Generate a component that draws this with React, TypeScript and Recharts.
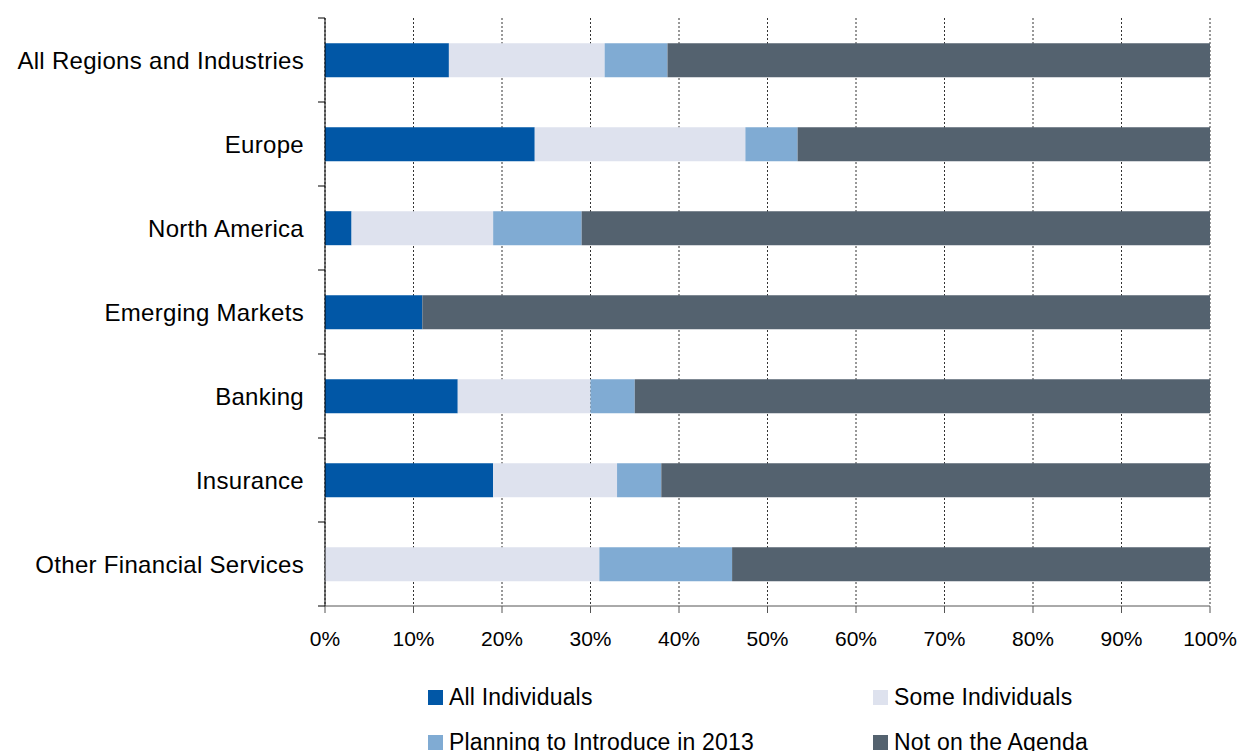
import React from 'react';
import { BarChart, Bar, XAxis, YAxis, CartesianGrid } from 'recharts';

// Categories (top to bottom)
const categories = [
  'All Regions and Industries',
  'Europe',
  'North America',
  'Emerging Markets',
  'Banking',
  'Insurance',
  'Other Financial Services',
];

// Share of respondents, in percent
const allIndividuals = [14, 23.7, 3, 11, 15, 19, 0];
const someIndividuals = [17.6, 23.8, 16, 0, 15, 14, 31];
const planning2013 = [7.1, 5.9, 10, 0, 5, 5, 15];
const notOnAgenda = [61.3, 46.6, 71, 89, 65, 62, 54];

const xTicks = [0, 10, 20, 30, 40, 50, 60, 70, 80, 90, 100];

const seriesNames = ['All Individuals', 'Some Individuals', 'Planning to Introduce in 2013', 'Not on the Agenda'];
const seriesColors = ['#0157A6', '#DEE2EE', '#80ABD3', '#54626F'];

const data = categories.map((name, i) => ({
  name,
  all: allIndividuals[i],
  some: someIndividuals[i],
  planning: planning2013[i],
  notOn: notOnAgenda[i],
}));

const FONT = '"Liberation Sans", Arial, sans-serif';
const BAND = 84;

// Category label plus a tick mark on the band boundary above it
const CategoryTick = (props: any) => {
  const { x, y, payload, index } = props;
  const last = index === categories.length - 1;
  return (
    <g>
      <text x={x} y={y} dy="0.36em" textAnchor="end" fontSize={24} letterSpacing={0.3} fill="#000" fontFamily={FONT}>
        {payload.value}
      </text>
      <line x1={x + 14} x2={x + 21} y1={y - BAND / 2} y2={y - BAND / 2} stroke="#000" strokeWidth={1} />
      {last && (
        <line x1={x + 14} x2={x + 21} y1={y + BAND / 2} y2={y + BAND / 2} stroke="#000" strokeWidth={1} />
      )}
    </g>
  );
};

function LegendBlock() {
  const rows = [
    [0, 1],
    [2, 3],
  ];
  const colLeft = [428, 873];
  const rowY = [697, 742];
  return (
    <>
      {rows.map((row, r) =>
        row.map((s, c) => (
          <div
            key={`${r}-${c}`}
            style={{
              position: 'absolute',
              left: colLeft[c],
              top: rowY[r] - 13,
              height: 26,
              display: 'flex',
              alignItems: 'center',
              fontFamily: FONT,
              fontSize: 23,
              letterSpacing: 0.2,
              color: '#000',
              whiteSpace: 'nowrap',
            }}
          >
            <span style={{ width: 15, height: 15, background: seriesColors[s], marginRight: 6, display: 'inline-block' }} />
            {seriesNames[s]}
          </div>
        ))
      )}
    </>
  );
}

export default function App() {
  return (
    <div style={{ position: 'absolute', left: 0, top: 0, width: 1242, height: 751, background: '#fff', overflow: 'hidden' }}>
      <BarChart
        width={1242}
        height={751}
        data={data}
        layout="vertical"
        margin={{ top: 18, right: 32, bottom: 105, left: 0 }}
        barCategoryGap="30%"
      >
        <CartesianGrid horizontal={false} stroke="#333" strokeDasharray="2 2" />
        <XAxis
          type="number"
          domain={[0, 100]}
          ticks={xTicks}
          tickFormatter={(v: number) => `${v}%`}
          height={40}
          axisLine={{ stroke: '#555', strokeWidth: 1 }}
          tickLine={{ stroke: '#555' }}
          tickSize={7}
          tickMargin={18}
          tick={{ fontSize: 21, fill: '#000', fontFamily: FONT }}
          interval={0}
        />
        <YAxis
          type="category"
          dataKey="name"
          width={325}
          axisLine={{ stroke: '#000', strokeWidth: 1 }}
          tickLine={false}
          tickSize={7}
          tickMargin={14}
          tick={<CategoryTick />}
          interval={0}
        />
        <Bar dataKey="all" stackId="a" fill={seriesColors[0]} isAnimationActive={false} />
        <Bar dataKey="some" stackId="a" fill={seriesColors[1]} isAnimationActive={false} />
        <Bar dataKey="planning" stackId="a" fill={seriesColors[2]} isAnimationActive={false} />
        <Bar dataKey="notOn" stackId="a" fill={seriesColors[3]} isAnimationActive={false} />
      </BarChart>
      <LegendBlock />
    </div>
  );
}
